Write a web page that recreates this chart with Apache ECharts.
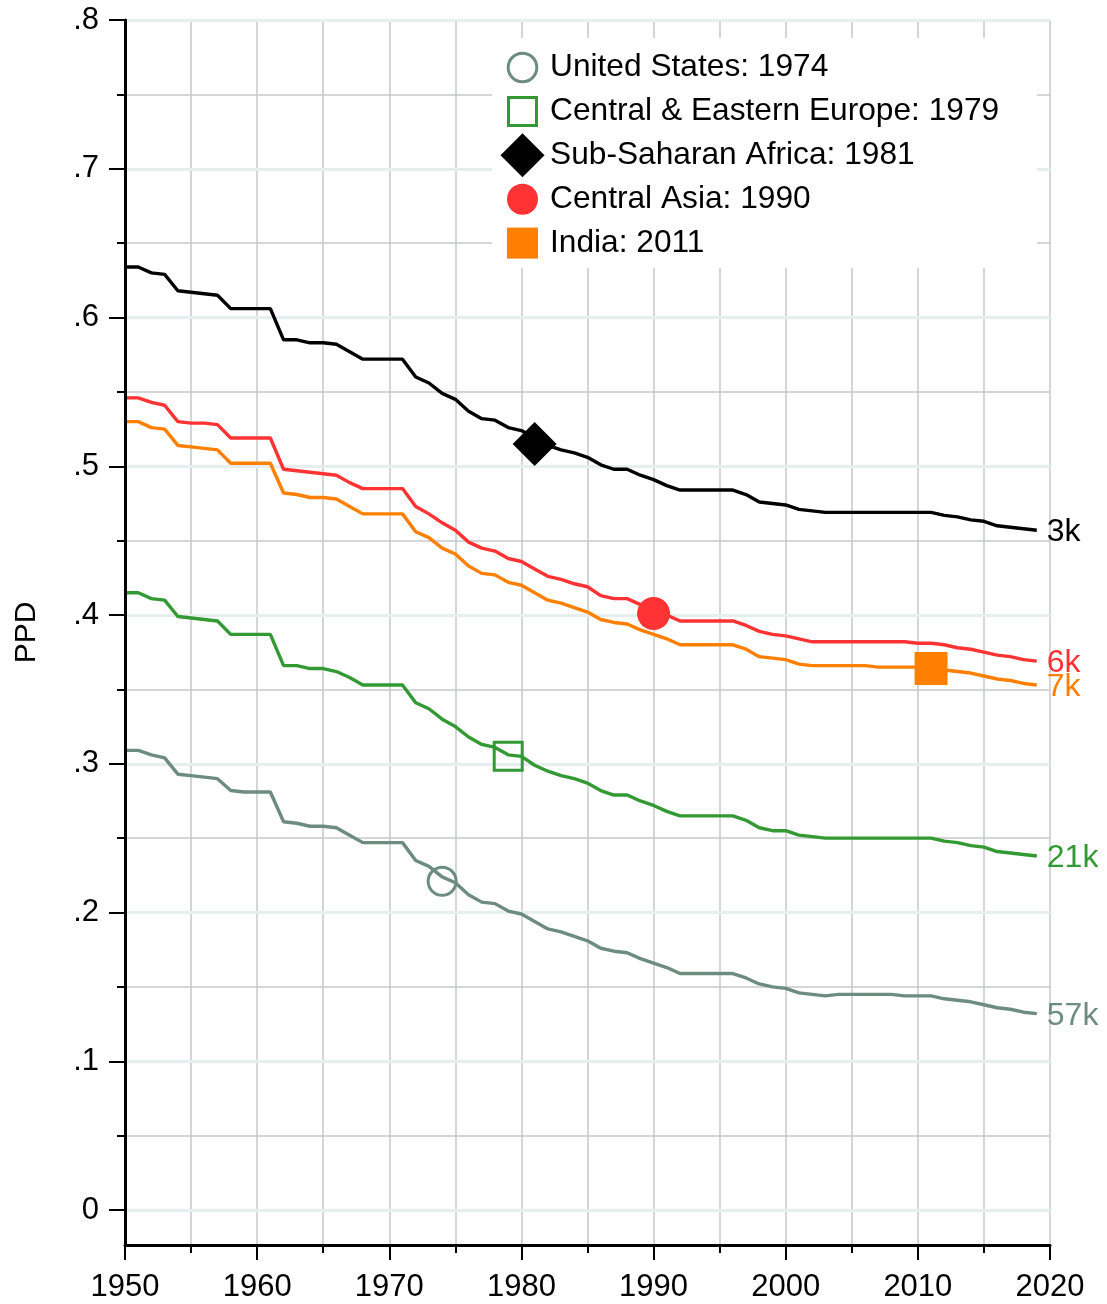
<!DOCTYPE html>
<html>
<head>
<meta charset="utf-8">
<title>PPD by region</title>
<script src="https://cdn.jsdelivr.net/npm/echarts@6/dist/echarts.min.js"></script>
<style>
  html, body { margin: 0; padding: 0; background: #fff; }
  #chart { width: 1107px; height: 1304px; }
</style>
</head>
<body>
<div id="chart"></div>
<script>
// Years covered by every regional series
const years = [
  1950, 1951, 1952, 1953, 1954, 1955, 1956, 1957, 1958, 1959,
  1960, 1961, 1962, 1963, 1964, 1965, 1966, 1967, 1968, 1969,
  1970, 1971, 1972, 1973, 1974, 1975, 1976, 1977, 1978, 1979,
  1980, 1981, 1982, 1983, 1984, 1985, 1986, 1987, 1988, 1989,
  1990, 1991, 1992, 1993, 1994, 1995, 1996, 1997, 1998, 1999,
  2000, 2001, 2002, 2003, 2004, 2005, 2006, 2007, 2008, 2009,
  2010, 2011, 2012, 2013, 2014, 2015, 2016, 2017, 2018, 2019
];

// PPD per region, one value per year
const subSaharanAfrica = [
  0.634, 0.634, 0.630, 0.629, 0.618, 0.617, 0.616, 0.615, 0.606, 0.606,
  0.606, 0.606, 0.585, 0.585, 0.583, 0.583, 0.582, 0.577, 0.572, 0.572,
  0.572, 0.572, 0.560, 0.556, 0.549, 0.545, 0.537, 0.532, 0.531, 0.526,
  0.524, 0.519, 0.514, 0.511, 0.509, 0.506, 0.501, 0.498, 0.498, 0.494,
  0.491, 0.487, 0.484, 0.484, 0.484, 0.484, 0.484, 0.481, 0.476, 0.475,
  0.474, 0.471, 0.470, 0.469, 0.469, 0.469, 0.469, 0.469, 0.469, 0.469,
  0.469, 0.469, 0.467, 0.466, 0.464, 0.463, 0.460, 0.459, 0.458, 0.457
];
const centralAsia = [
  0.546, 0.546, 0.543, 0.541, 0.530, 0.529, 0.529, 0.528, 0.519, 0.519,
  0.519, 0.519, 0.498, 0.497, 0.496, 0.495, 0.494, 0.489, 0.485, 0.485,
  0.485, 0.485, 0.473, 0.468, 0.462, 0.457, 0.449, 0.445, 0.443, 0.438,
  0.436, 0.431, 0.426, 0.424, 0.421, 0.419, 0.413, 0.411, 0.411, 0.407,
  0.403, 0.400, 0.396, 0.396, 0.396, 0.396, 0.396, 0.393, 0.389, 0.387,
  0.386, 0.384, 0.382, 0.382, 0.382, 0.382, 0.382, 0.382, 0.382, 0.382,
  0.381, 0.381, 0.380, 0.378, 0.377, 0.375, 0.373, 0.372, 0.370, 0.369
];
const india = [
  0.530, 0.530, 0.526, 0.525, 0.514, 0.513, 0.512, 0.511, 0.502, 0.502,
  0.502, 0.502, 0.482, 0.481, 0.479, 0.479, 0.478, 0.473, 0.468, 0.468,
  0.468, 0.468, 0.456, 0.452, 0.445, 0.441, 0.433, 0.428, 0.427, 0.422,
  0.420, 0.415, 0.410, 0.408, 0.405, 0.402, 0.397, 0.395, 0.394, 0.390,
  0.387, 0.384, 0.380, 0.380, 0.380, 0.380, 0.380, 0.377, 0.372, 0.371,
  0.370, 0.367, 0.366, 0.366, 0.366, 0.366, 0.366, 0.365, 0.365, 0.365,
  0.365, 0.365, 0.363, 0.362, 0.361, 0.359, 0.357, 0.356, 0.354, 0.353
];
const centralEasternEurope = [
  0.415, 0.415, 0.411, 0.410, 0.399, 0.398, 0.397, 0.396, 0.387, 0.387,
  0.387, 0.387, 0.366, 0.366, 0.364, 0.364, 0.362, 0.358, 0.353, 0.353,
  0.353, 0.353, 0.341, 0.337, 0.330, 0.325, 0.318, 0.313, 0.311, 0.306,
  0.305, 0.299, 0.295, 0.292, 0.290, 0.287, 0.282, 0.279, 0.279, 0.275,
  0.272, 0.268, 0.265, 0.265, 0.265, 0.265, 0.265, 0.262, 0.257, 0.255,
  0.255, 0.252, 0.251, 0.250, 0.250, 0.250, 0.250, 0.250, 0.250, 0.250,
  0.250, 0.250, 0.248, 0.247, 0.245, 0.244, 0.241, 0.240, 0.239, 0.238
];
const unitedStates = [
  0.309, 0.309, 0.306, 0.304, 0.293, 0.292, 0.291, 0.290, 0.282, 0.281,
  0.281, 0.281, 0.261, 0.260, 0.258, 0.258, 0.257, 0.252, 0.247, 0.247,
  0.247, 0.247, 0.235, 0.231, 0.224, 0.220, 0.212, 0.207, 0.206, 0.201,
  0.199, 0.194, 0.189, 0.187, 0.184, 0.181, 0.176, 0.174, 0.173, 0.169,
  0.166, 0.163, 0.159, 0.159, 0.159, 0.159, 0.159, 0.156, 0.152, 0.150,
  0.149, 0.146, 0.145, 0.144, 0.145, 0.145, 0.145, 0.145, 0.145, 0.144,
  0.144, 0.144, 0.142, 0.141, 0.140, 0.138, 0.136, 0.135, 0.133, 0.132
];

// Highlighted year per region and its PPD
const regionNames = ['United States', 'Central & Eastern Europe', 'Sub-Saharan Africa', 'Central Asia', 'India'];
const highlightYears = [1974, 1979, 1981, 1990, 2011];
const highlightValues = [0.221, 0.305, 0.515, 0.401, 0.364];

// Labels drawn at the right end of each line
const endLabels = ['57k', '21k', '3k', '6k', '7k'];

// Y axis tick positions
const yMajorTicks = [0, 0.1, 0.2, 0.3, 0.4, 0.5, 0.6, 0.7, 0.8];
const yMinorTicks = [0.05, 0.15, 0.25, 0.35, 0.45, 0.55, 0.65, 0.75];

const seriesValues = [unitedStates, centralEasternEurope, subSaharanAfrica, centralAsia, india];
const colors = ['#6c8c80', '#339933', '#000000', '#ff3333', '#ff8000'];
const FONT = '"Liberation Sans", Arial, Helvetica, sans-serif';

const pairs = arr => years.map((y, i) => [y, arr[i]]);

const lineSeries = seriesValues.map((vals, i) => ({
  name: regionNames[i],
  type: 'line',
  data: pairs(vals),
  showSymbol: false,
  symbol: 'none',
  z: 2,
  lineStyle: { color: colors[i], width: 3.4 },
  itemStyle: { color: colors[i] },
  endLabel: {
    show: true,
    formatter: endLabels[i],
    color: colors[i],
    fontSize: 32,
    fontFamily: FONT,
    distance: 10,
    offset: [0, 2]
  },
  animation: false,
  silent: true
}));

// Marker styles for the highlighted years
const markerStyles = [
  { symbol: 'circle', symbolSize: 28, itemStyle: { color: 'rgba(0,0,0,0)', borderColor: colors[0], borderWidth: 3, opacity: 1 } },
  { symbol: 'rect', symbolSize: 28, itemStyle: { color: 'rgba(0,0,0,0)', borderColor: colors[1], borderWidth: 3, opacity: 1 } },
  { symbol: 'diamond', symbolSize: 44, itemStyle: { color: colors[2], opacity: 1 } },
  { symbol: 'circle', symbolSize: 33, itemStyle: { color: colors[3], opacity: 1 } },
  { symbol: 'rect', symbolSize: 33, itemStyle: { color: colors[4], opacity: 1 } }
];

const markerSeries = highlightYears.map((yr, i) => Object.assign({
  name: regionNames[i] + ': ' + yr,
  type: 'scatter',
  data: [[yr, highlightValues[i]]],
  z: 3,
  animation: false,
  silent: true
}, markerStyles[i]));

// Horizontal grid: light bands at each tenth, thin grey lines halfway between
const gridLineSeries = {
  type: 'line',
  data: [[1950, 0]],
  showSymbol: false,
  symbol: 'none',
  lineStyle: { opacity: 0 },
  silent: true,
  animation: false,
  z: 0,
  markLine: {
    z: 1,
    silent: true,
    animation: false,
    symbol: ['none', 'none'],
    label: { show: false },
    data: yMajorTicks.map(v => ({ yAxis: v, lineStyle: { color: '#e6eeef', width: 3, type: 'solid' } }))
      .concat(yMinorTicks.map(v => ({ yAxis: v, lineStyle: { color: '#c6c8ca', width: 1.5, type: 'solid' } })))
  }
};

// Legend panel
const legendX = 522.5;
const legendRows = [67.5, 111.4, 155.3, 199.2, 243.1];
const legendIcons = [
  { type: 'circle', shape: { cx: legendX, cy: legendRows[0], r: 14.3 }, style: { fill: 'none', stroke: colors[0], lineWidth: 3 } },
  { type: 'rect', shape: { x: legendX - 14, y: legendRows[1] - 14, width: 28, height: 28 }, style: { fill: 'none', stroke: colors[1], lineWidth: 3 } },
  { type: 'polygon', shape: { points: [[legendX, legendRows[2] - 22], [legendX + 22, legendRows[2]], [legendX, legendRows[2] + 22], [legendX - 22, legendRows[2]]] }, style: { fill: colors[2] } },
  { type: 'circle', shape: { cx: legendX, cy: legendRows[3], r: 15.5 }, style: { fill: colors[3] } },
  { type: 'rect', shape: { x: legendX - 15.5, y: legendRows[4] - 15.5, width: 31, height: 31 }, style: { fill: colors[4] } }
];
const legendTexts = markerSeries.map((s, i) => ({
  type: 'text',
  x: 550,
  y: legendRows[i],
  style: { text: s.name, fill: '#000', font: '31.7px ' + FONT, verticalAlign: 'middle', align: 'left' }
}));
const legendElements = [
  { type: 'rect', shape: { x: 492, y: 38, width: 545, height: 230 }, style: { fill: '#ffffff' } }
].concat(legendIcons, legendTexts).map(el => Object.assign({ z: 100, zlevel: 0, silent: true }, el));

const chart = echarts.init(document.getElementById('chart'), null, { renderer: 'canvas' });
chart.setOption({
  animation: false,
  backgroundColor: '#ffffff',
  textStyle: { fontFamily: FONT },
  grid: { left: 125, right: 57, top: 20, bottom: 59, containLabel: false },
  xAxis: {
    type: 'value',
    min: 1950,
    max: 2020,
    interval: 10,
    z: 0,
    axisLine: { show: true, onZero: false, lineStyle: { color: '#000', width: 3 } },
    axisTick: { show: true, length: 15, lineStyle: { color: '#000', width: 2 } },
    minorTick: { show: true, splitNumber: 2, length: 8, lineStyle: { color: '#000', width: 2 } },
    splitLine: { show: true, lineStyle: { color: '#c6c8ca', width: 1.5 } },
    minorSplitLine: { show: true, lineStyle: { color: '#c6c8ca', width: 1.5 } },
    axisLabel: { color: '#000', fontSize: 31, fontFamily: FONT, margin: 27, formatter: v => String(v) }
  },
  yAxis: [
    {
      type: 'value',
      min: -0.0235,
      max: 0.8,
      position: 'left',
      z: 4,
      name: 'PPD',
      nameLocation: 'middle',
      nameGap: 83,
      nameTextStyle: { color: '#000', fontSize: 30, fontFamily: FONT },
      axisLine: { show: true, onZero: false, lineStyle: { color: '#000', width: 3 } },
      axisTick: { show: true, length: 16, customValues: yMajorTicks, lineStyle: { color: '#000', width: 2 } },
      axisLabel: {
        color: '#000', fontSize: 31, fontFamily: FONT, margin: 26,
        customValues: yMajorTicks,
        formatter: v => (Math.abs(v) < 1e-9 ? '0' : String(+v.toFixed(2)).replace(/^0\./, '.'))
      },
      splitLine: { show: false }
    },
    {
      type: 'value',
      min: -0.0235,
      max: 0.8,
      position: 'left',
      z: 4,
      axisLine: { show: false },
      axisTick: { show: true, length: 8, customValues: yMinorTicks, lineStyle: { color: '#000', width: 2 } },
      axisLabel: { show: false },
      splitLine: { show: false }
    }
  ],
  series: [gridLineSeries].concat(lineSeries, markerSeries),
  graphic: { elements: legendElements }
});
</script>
</body>
</html>
